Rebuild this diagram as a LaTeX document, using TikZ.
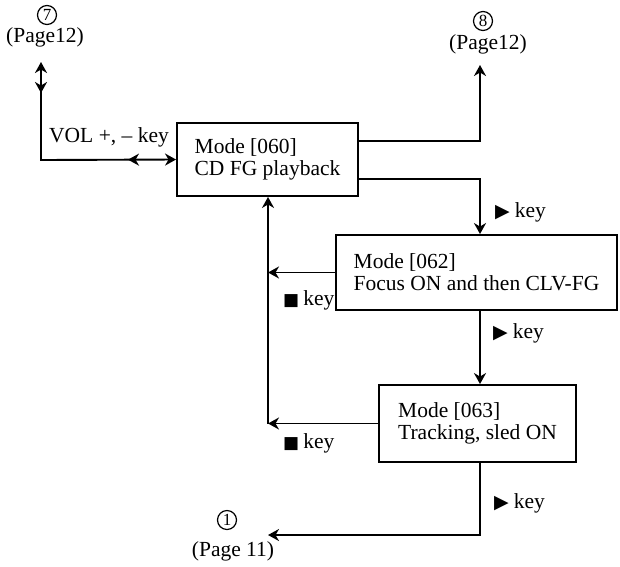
\documentclass[tikz,border=0pt]{standalone}
\usepackage{fontspec}
\setmainfont{Liberation Serif}
\newfontfamily\symf{DejaVu Sans}
\usetikzlibrary{arrows.meta,calc,decorations.markings}
\newcommand{\playkey}{{\symf\fontsize{19}{22}\selectfont ▶}\hspace{5pt}key}
\newcommand{\stopkey}{{\symf\fontsize{17}{22}\selectfont ■}\hspace{4pt}key}
\begin{document}
\begin{tikzpicture}[x=1pt,y=-1pt,
  tip/.tip={Stealth[length=11pt,width=12pt,inset=3.5pt]},
  conn/.style={line width=1.9pt,-tip},
  box/.style={draw,line width=1.9pt,align=left,inner sep=0pt,
    font=\fontsize{21.5}{22}\selectfont},
  txt/.style={inner sep=0pt,font=\fontsize{21.5}{22}\selectfont},
  cnum/.style={circle,draw,line width=1.2pt,minimum size=19pt,inner sep=0pt,
    font=\fontsize{17}{17}\selectfont},
]
\useasboundingbox (0,0) rectangle (620,566);

% boxes
\node[box,minimum width=181pt,minimum height=73pt] (m060) at (267.5,159.5)
  {Mode [060]\\CD FG playback};
\node[box,minimum width=281pt,minimum height=75pt] (m062) at (476.5,272.5)
  {Mode [062]\\Focus ON and then CLV-FG};
\node[box,minimum width=197pt,minimum height=77pt] (m063) at (477.5,423.5)
  {Mode [063]\\Tracking, sled ON};

% off-page references
\node[cnum] (n7) at (47,15) {7};
\node[txt] (p7) at (45,37) {(Page12)};
\node[cnum] (n8) at (483,21) {8};
\node[txt] (p8) at (488,44) {(Page12)};
\node[cnum] (n1) at (227,520) {1};
\node[txt] (p1) at (233,551) {(Page 11)};

% key labels
\node[txt,anchor=west] (vol) at (49,137) {VOL +, – key};
\node[txt,anchor=west] (k1) at (495,212) {\playkey};
\node[txt,anchor=west] (k2) at (493,333) {\playkey};
\node[txt,anchor=west] (k3) at (494,503) {\playkey};
\node[txt,anchor=west] (s1) at (283,300) {\stopkey};
\node[txt,anchor=west] (s2) at (283,443) {\stopkey};

% connector end points
\coordinate (c7) at (41,62);
\coordinate (c7b) at (41,160);
\coordinate (c8) at (480,65);
\coordinate (cv) at (268,423.5);
\coordinate (c1) at (268,535);

% VOL +/- bidirectional link
\draw[line width=1.9pt,tip-tip,
  postaction={decorate},
  decoration={markings,
    mark=at position 31pt with {\arrow{tip}},
    mark=at position 185pt with {\arrowreversed{tip}}}]
  (c7) -- (c7b) -- (m060.west);

% mode 060 outputs
\draw[conn] ([yshift=18.5pt]m060.east) -| (c8);
\draw[conn] ([yshift=-19.5pt]m060.east) -| (c8 |- m062.north);
% 062 -> 063
\draw[conn] (c8 |- m062.south) -- (c8 |- m063.north);
% 063 -> page 11
\draw[conn] (c8 |- m063.south) |- (c1);
% stop key returns
\draw[conn] (m063.west) -- (cv);
\draw[conn] (cv) -- (cv |- m060.south);
\draw[conn] (m062.west) -- (m062.west -| cv);
\end{tikzpicture}
\end{document}
